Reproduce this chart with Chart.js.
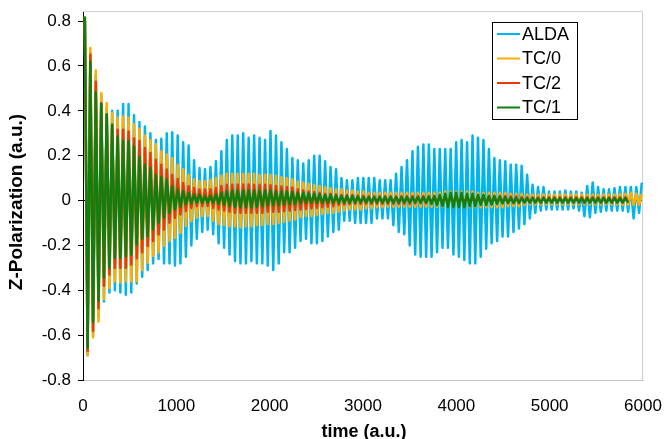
<!DOCTYPE html>
<html>
<head>
<meta charset="utf-8">
<script src="https://cdn.jsdelivr.net/npm/chart.js@4/dist/chart.umd.min.js"></script>
<style>
  html,body{margin:0;padding:0;background:#fff;}
  #wrap{width:665px;height:439px;position:relative;}
</style>
</head>
<body>
<div id="wrap"><canvas id="chart" width="665" height="439"></canvas></div>
<script>
// first maximum and oscillation period (time in a.u.)
const firstPeak = 20;
const period = 58.5;

const seriesNames = ['ALDA', 'TC/0', 'TC/2', 'TC/1'];
const xTicks = [0, 1000, 2000, 3000, 4000, 5000, 6000];
const yTicks = [-0.8, -0.6, -0.4, -0.2, 0, 0.2, 0.4, 0.6, 0.8];

// upper / lower turning points of every cycle
const aldaHi = [0.80,0.66,0.56,0.47,0.42,0.40,0.40,0.43,0.43,0.38,
  0.35,0.33,0.30,0.27,0.275,0.30,0.305,0.29,0.26,0.245,
  0.18,0.145,0.14,0.15,0.175,0.22,0.27,0.29,0.29,0.30,
  0.28,0.29,0.28,0.27,0.31,0.29,0.26,0.23,0.19,0.18,
  0.165,0.18,0.20,0.20,0.175,0.15,0.14,0.10,0.09,0.09,
  0.10,0.10,0.10,0.10,0.09,0.09,0.09,0.12,0.15,0.18,
  0.22,0.24,0.25,0.25,0.23,0.23,0.23,0.23,0.26,0.27,
  0.26,0.29,0.28,0.27,0.23,0.19,0.18,0.175,0.16,0.16,
  0.155,0.115,0.07,0.06,0.06,0.04,0.04,0.04,0.045,0.04,
  0.04,0.035,0.065,0.08,0.06,0.05,0.05,0.055,0.06,0.06,
  0.06,0.06,0.08];
const aldaLo = [-0.69,-0.60,-0.52,-0.45,-0.41,-0.40,-0.41,-0.42,-0.41,-0.37,
  -0.34,-0.31,-0.28,-0.26,-0.28,-0.28,-0.29,-0.28,-0.25,-0.20,
  -0.17,-0.14,-0.13,-0.15,-0.19,-0.21,-0.24,-0.27,-0.28,-0.28,
  -0.27,-0.28,-0.28,-0.29,-0.31,-0.28,-0.23,-0.23,-0.21,-0.18,
  -0.17,-0.19,-0.19,-0.18,-0.16,-0.14,-0.13,-0.09,-0.09,-0.10,
  -0.10,-0.10,-0.10,-0.08,-0.08,-0.08,-0.11,-0.14,-0.15,-0.20,
  -0.24,-0.25,-0.25,-0.25,-0.23,-0.21,-0.21,-0.24,-0.25,-0.265,
  -0.28,-0.28,-0.25,-0.215,-0.19,-0.18,-0.16,-0.16,-0.14,-0.125,
  -0.105,-0.08,-0.055,-0.045,-0.04,-0.04,-0.04,-0.04,-0.04,-0.035,
  -0.045,-0.07,-0.075,-0.055,-0.05,-0.045,-0.045,-0.045,-0.045,-0.05,
  -0.08,-0.055];

const tc0Hi = [0.82,0.68,0.58,0.48,0.435,0.39,0.37,0.375,0.37,0.34,
  0.32,0.29,0.27,0.25,0.22,0.205,0.19,0.16,0.14,0.115,
  0.095,0.086,0.086,0.093,0.10,0.11,0.12,0.12,0.12,0.12,
  0.12,0.12,0.115,0.115,0.115,0.11,0.105,0.10,0.095,0.085,
  0.08,0.075,0.07,0.065,0.06,0.055,0.05,0.05,0.045,0.045,
  0.04,0.04,0.035,0.035,0.035,0.035,0.035,0.035,0.035,0.035,
  0.035,0.035,0.035,0.035,0.035,0.035,0.04,0.04,0.04,0.04,
  0.04,0.04,0.035,0.035,0.035,0.035,0.035,0.035,0.03,0.03,
  0.03,0.027,0.027,0.027,0.027,0.027,0.027,0.027,0.027,0.027,
  0.027,0.027,0.027,0.027,0.027,0.027,0.027,0.027,0.03,0.03,
  0.035,0.03,0.03];
const tc0Lo = [-0.69,-0.61,-0.54,-0.44,-0.39,-0.36,-0.365,-0.36,-0.36,-0.36,
  -0.31,-0.277,-0.247,-0.232,-0.203,-0.18,-0.166,-0.144,-0.114,-0.092,
  -0.077,-0.07,-0.07,-0.09,-0.105,-0.11,-0.115,-0.115,-0.12,-0.115,
  -0.115,-0.11,-0.11,-0.105,-0.105,-0.10,-0.095,-0.09,-0.085,-0.075,
  -0.07,-0.07,-0.065,-0.06,-0.055,-0.055,-0.05,-0.045,-0.04,-0.04,
  -0.04,-0.035,-0.035,-0.03,-0.03,-0.028,-0.028,-0.028,-0.028,-0.028,
  -0.028,-0.028,-0.028,-0.028,-0.028,-0.028,-0.03,-0.03,-0.03,-0.03,
  -0.03,-0.03,-0.03,-0.03,-0.03,-0.03,-0.03,-0.025,-0.025,-0.025,
  -0.02,-0.017,-0.017,-0.017,-0.017,-0.017,-0.017,-0.017,-0.017,-0.017,
  -0.017,-0.017,-0.017,-0.017,-0.017,-0.017,-0.017,-0.017,-0.02,-0.02,
  -0.02,-0.02];

const tc2Hi = [0.80,0.65,0.53,0.434,0.38,0.338,0.316,0.316,0.308,0.278,
  0.265,0.234,0.212,0.182,0.16,0.138,0.115,0.096,0.078,0.064,
  0.056,0.049,0.049,0.05,0.056,0.065,0.07,0.07,0.072,0.072,
  0.072,0.07,0.07,0.07,0.068,0.065,0.063,0.06,0.058,0.05,
  0.045,0.04,0.038,0.035,0.03,0.03,0.028,0.025,0.025,0.025,
  0.022,0.022,0.02,0.02,0.02,0.02,0.02,0.02,0.02,0.02,
  0.02,0.02,0.02,0.02,0.02,0.02,0.02,0.02,0.02,0.02,
  0.02,0.02,0.02,0.02,0.02,0.02,0.02,0.02,0.018,0.018,
  0.015,0.015,0.015,0.015,0.015,0.015,0.015,0.015,0.015,0.015,
  0.015,0.015,0.015,0.015,0.015,0.015,0.015,0.015,0.015,0.015];
const tc2Lo = [-0.67,-0.58,-0.48,-0.38,-0.33,-0.30,-0.30,-0.30,-0.285,-0.257,
  -0.23,-0.203,-0.18,-0.151,-0.129,-0.099,-0.077,-0.062,-0.047,-0.033,
  -0.025,-0.025,-0.024,-0.033,-0.04,-0.045,-0.05,-0.055,-0.055,-0.055,
  -0.055,-0.055,-0.055,-0.05,-0.05,-0.05,-0.048,-0.045,-0.042,-0.04,
  -0.038,-0.035,-0.032,-0.03,-0.028,-0.025,-0.02,-0.018,-0.016,-0.015,
  -0.015,-0.015,-0.015,-0.015,-0.015,-0.015,-0.015,-0.015,-0.015,-0.015,
  -0.012,-0.012,-0.012,-0.012,-0.012,-0.012,-0.012,-0.012,-0.012,-0.012,
  -0.012,-0.012,-0.012,-0.012,-0.012,-0.012,-0.012,-0.012,-0.012,-0.012,
  -0.01,-0.01,-0.01,-0.01,-0.01,-0.01,-0.01,-0.01,-0.01,-0.01,
  -0.01,-0.01,-0.01,-0.01,-0.01,-0.01,-0.01,-0.01,-0.01,-0.01];

const tc1Hi = [0.82,0.62,0.483,0.43,0.385,0.338,0.286,0.267,0.264,0.241,
  0.195,0.16,0.145,0.115,0.105,0.093,0.064,0.049,0.041,0.034,
  0.027,0.027,0.02,0.022,0.027,0.035,0.04,0.045,0.045,0.045,
  0.045,0.045,0.045,0.045,0.045,0.042,0.04,0.04,0.038,0.035,
  0.035,0.032,0.03,0.028,0.025,0.025,0.022,0.02,0.02,0.02,
  0.018,0.015,0.015,0.015,0.015,0.015,0.015,0.015,0.015,0.015,
  0.015,0.015,0.015,0.018,0.02,0.025,0.03,0.035,0.035,0.035,
  0.03,0.03,0.025,0.025,0.02,0.02,0.018,0.015,0.012,0.012,
  0.01,0.01,0.01,0.01,0.01,0.01,0.01,0.01,0.01,0.01,
  0.01,0.01,0.01,0.01,0.01,0.01,0.01,0.01,0.01,0.01];
const tc1Lo = [-0.656,-0.54,-0.447,-0.343,-0.30,-0.255,-0.255,-0.248,-0.24,-0.196,
  -0.17,-0.158,-0.129,-0.099,-0.077,-0.055,-0.04,-0.028,-0.018,-0.013,
  -0.01,-0.01,-0.01,-0.01,-0.015,-0.02,-0.025,-0.028,-0.03,-0.03,
  -0.03,-0.028,-0.025,-0.022,-0.02,-0.02,-0.018,-0.016,-0.015,-0.012,
  -0.01,-0.01,-0.01,-0.01,-0.01,-0.01,-0.01,-0.01,-0.01,-0.01,
  -0.008,-0.008,-0.008,-0.008,-0.008,-0.008,-0.008,-0.008,-0.008,-0.008,
  -0.008,-0.008,-0.01,-0.015,-0.02,-0.025,-0.03,-0.03,-0.03,-0.03,
  -0.025,-0.025,-0.02,-0.02,-0.018,-0.015,-0.012,-0.01,-0.01,-0.01,
  -0.008,-0.008,-0.008,-0.008,-0.008,-0.008,-0.008,-0.008,-0.008,-0.008,
  -0.008,-0.008,-0.008,-0.008,-0.008,-0.008,-0.008,-0.008,-0.008,-0.008];

const colors = ['#00b4ee', '#ffae00', '#ee3a00', '#0f800f'];
const FONT = '"Liberation Sans", Arial, sans-serif';

// maxima at firstPeak + k*period, minima half a period later
function turningPoints(hi, lo){
  const pts = [];
  for (let k = 0; k < hi.length; k++){
    pts.push({x: firstPeak + k*period, y: hi[k]});
    if (k < lo.length) pts.push({x: firstPeak + (k + 0.5)*period, y: lo[k]});
  }
  return pts;
}

const pairs = [[aldaHi, aldaLo], [tc0Hi, tc0Lo], [tc2Hi, tc2Lo], [tc1Hi, tc1Lo]];
const datasets = pairs.map((p, i) => ({
  label: seriesNames[i],
  data: turningPoints(p[0], p[1]),
  borderColor: colors[i],
  backgroundColor: colors[i],
  borderWidth: 2.5,
  borderJoinStyle: 'round',
  pointRadius: 0,
  tension: 0,
  order: 4 - i
}));

const decor = {
  id: 'decor',
  beforeDatasetsDraw(chart){
    const {ctx, chartArea: a} = chart;
    ctx.save();
    ctx.strokeStyle = '#d0d0d0';
    ctx.lineWidth = 1;
    ctx.beginPath();
    ctx.moveTo(a.left, a.top + 0.5); ctx.lineTo(a.right - 0.5, a.top + 0.5);
    ctx.lineTo(a.right - 0.5, a.bottom);
    ctx.stroke();
    ctx.restore();
  },
  afterDraw(chart){
    const {ctx} = chart;
    ctx.save();
    ctx.fillStyle = '#000';
    ctx.textAlign = 'center';
    ctx.textBaseline = 'middle';
    ctx.font = 'bold 18px ' + FONT;
    ctx.fillText('time (a.u.)', 364, 432);
    ctx.translate(17, 202);
    ctx.rotate(-Math.PI/2);
    ctx.font = 'bold 19px ' + FONT;
    ctx.fillText('Z-Polarization (a.u.)', 0, 0);
    ctx.restore();

    // legend box
    const bx = 492.5, by = 22.5, bw = 85, bh = 97;
    ctx.save();
    ctx.fillStyle = '#fff';
    ctx.fillRect(bx, by, bw, bh);
    ctx.strokeStyle = '#000';
    ctx.lineWidth = 1;
    ctx.strokeRect(bx, by, bw, bh);
    ctx.font = '18px ' + FONT;
    ctx.textBaseline = 'middle';
    ctx.textAlign = 'left';
    seriesNames.forEach((n, i) => {
      const y = 34 + i*24.5;
      ctx.strokeStyle = colors[i];
      ctx.lineWidth = 2;
      ctx.beginPath(); ctx.moveTo(497, y); ctx.lineTo(520, y); ctx.stroke();
      ctx.fillStyle = '#000';
      ctx.fillText(n, 522, y + 1);
    });
    ctx.restore();
  }
};

new Chart(document.getElementById('chart'), {
  type: 'line',
  data: {datasets},
  options: {
    responsive: false,
    animation: false,
    devicePixelRatio: 1,
    layout: {padding: {left: 0, top: 11, right: 22, bottom: 0}},
    plugins: {legend: {display: false}, tooltip: {enabled: false}},
    scales: {
      x: {
        type: 'linear', min: 0, max: 6000,
        afterBuildTicks: s => { s.ticks = xTicks.map(v => ({value: v})); },
        afterFit: s => { s.height = 59; s.paddingLeft = 0; s.paddingRight = 0; },
        grid: {display: false},
        border: {color: '#c8c8c8', width: 1},
        ticks: {color: '#000', font: {family: FONT, size: 17}, padding: 8, maxRotation: 0,
          callback: v => String(v)}
      },
      y: {
        min: -0.8, max: 0.845,
        afterBuildTicks: s => { s.ticks = yTicks.map(v => ({value: v})); },
        afterFit: s => { s.width = 83; s.paddingTop = 0; s.paddingBottom = 0; },
        grid: {
          drawOnChartArea: true,
          color: c => (c.tick && c.tick.value === 0) ? '#000' : 'rgba(0,0,0,0)',
          tickColor: '#000', tickLength: 5, lineWidth: 1
        },
        border: {color: '#000', width: 1},
        ticks: {color: '#000', font: {family: FONT, size: 17}, padding: 7,
          callback: v => v === 0 ? '0' : Number(v).toFixed(1)}
      }
    }
  },
  plugins: [decor]
});
</script>
</body>
</html>
